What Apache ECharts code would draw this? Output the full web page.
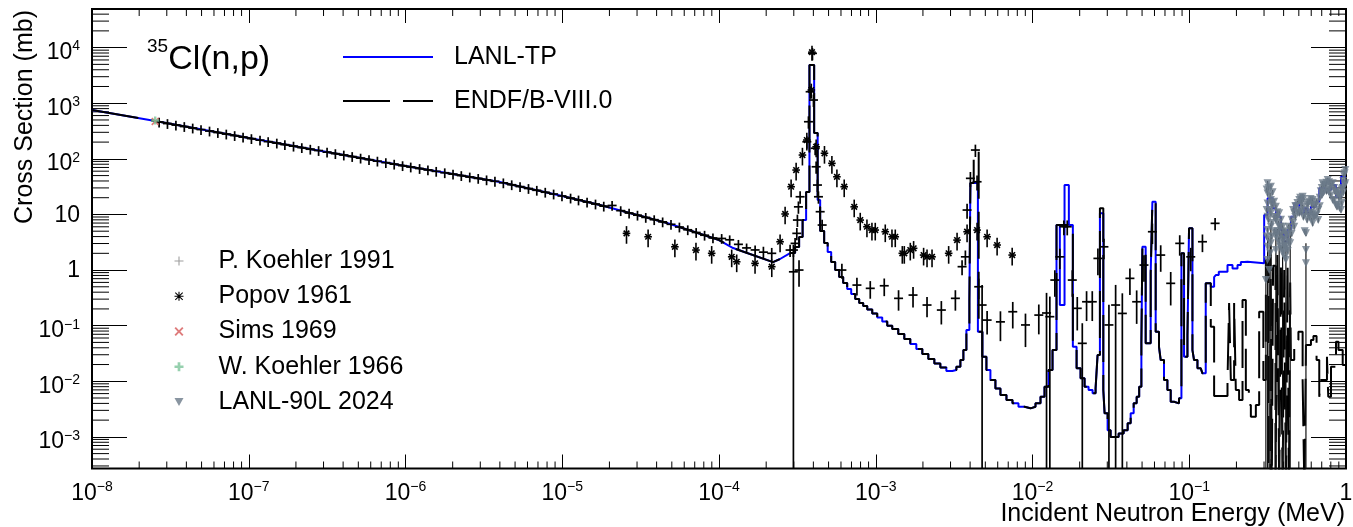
<!DOCTYPE html>
<html><head><meta charset="utf-8">
<script src="https://cdn.jsdelivr.net/npm/echarts@6/dist/echarts.min.js"></script>
<style>html,body{margin:0;padding:0;background:#fff}#c{width:1353px;height:527px}</style>
</head><body><div id="c"></div>
<script>
const FONT = '"Liberation Sans", Arial, Helvetica, sans-serif';

// ---- axis ranges / tick labels ----
const xRange = [1e-8, 1];
const yRange = [2.7e-4, 4.95e4];
const tickMultipliers = [2, 3, 4, 5, 6, 7, 8, 9];
const xDecades = [-8, -7, -6, -5, -4, -3, -2, -1];
const yDecades = [-4, -3, -2, -1, 0, 1, 2, 3, 4];

// ---- evaluated curves: smooth 1/v part shared by both libraries ----
const lowCurve = [
  [1e-8,755],[2.53e-8,479],[1e-7,237],[9.16e-7,77.3],[4.0e-6,38.3],[1.0e-5,21.4],[1.74e-5,14.8],
  [4.66e-5,7.0],[1.0e-4,3.47],[1.23e-4,2.49],[2.21e-4,1.39],[2.45e-4,1.58],[2.842e-4,2.02]
];
// histogram bins (lower edge, value)
const stepA = [
  [2.842e-4,2.02],[3.058e-4,2.59],[3.244e-4,3.92],[3.415e-4,7.93],[3.596e-4,25.3],[3.776e-4,4860],[4.046e-4,291],
  [4.260e-4,18.2],[4.420e-4,5.03],[4.687e-4,3.06],[4.935e-4,2.11],[5.196e-4,1.39],[5.510e-4,1.0],[5.844e-4,0.748],
  [6.198e-4,0.583],[6.573e-4,0.455],[6.972e-4,0.370],[7.396e-4,0.301],[7.843e-4,0.255],[8.317e-4,0.225],[8.825e-4,0.195],
  [9.497e-4,0.165],[1.022e-3,0.140],[1.100e-3,0.119],[1.184e-3,0.100],[1.274e-3,0.0869],[1.392e-3,0.0707],[1.521e-3,0.0574],
  [1.661e-3,0.0467],[1.815e-3,0.0379],[1.982e-3,0.0308],[2.165e-3,0.0251],[2.365e-3,0.0208],[2.583e-3,0.0176],[2.821e-3,0.0153],
  [3.082e-3,0.0159],[3.268e-3,0.0182],[3.467e-3,0.0241],[3.623e-3,0.0364],[3.787e-3,0.0833],[3.957e-3,0.289]
];
const lanlRes4 = [[4.016e-3,36.7],[4.484e-3,0.0777]];
const endfRes4 = [[4.016e-3,36.7],[4.216e-3,134],[4.537e-3,0.0777]];
const stepB = [
  [4.791e-3,0.0276],[5.082e-3,0.0159],[5.389e-3,0.0105],[5.800e-3,0.00745],[6.244e-3,0.00565],[6.822e-3,0.00459],
  [7.452e-3,0.00401],[8.138e-3,0.00348],[8.890e-3,0.00326],[9.710e-3,0.00348],[1.045e-2,0.00401],[1.125e-2,0.00526],
  [1.193e-2,0.00796],[1.265e-2,0.0159],[1.342e-2,0.0364]
];
const lanlRes16 = [[1.423e-2,6.45],[1.494e-2,0.235],[1.601e-2,33.8],[1.706e-2,6.45]];
const endfRes16 = [[1.423e-2,6.45]];
const stepC = [
  [1.809e-2,0.0417],[1.911e-2,0.0171],[2.026e-2,0.0113],[2.149e-2,0.00796],[2.279e-2,0.00695],[2.417e-2,0.00606],
  [2.526e-2,0.00745],[2.601e-2,0.0296]
];
const lanlRes27 = [[2.692e-2,10.5]];
const endfRes27 = [[2.692e-2,12.9]];
const stepD = [
  [2.830e-2,0.00695],[2.884e-2,0.00265],[3.014e-2,0.00132],[3.150e-2,0.00100],[3.544e-2,0.00115],[3.815e-2,0.00132],
  [4.046e-2,0.00175],[4.229e-2,0.00265],[4.420e-2,0.00401],[4.619e-2,0.00526],[4.793e-2,0.00796],[4.950e-2,0.0481],
  [5.024e-2,2.62],[5.272e-2,0.0481],[5.675e-2,0.873],[5.819e-2,16.9],[6.107e-2,0.0777],[6.412e-2,0.0417],[6.575e-2,0.0241],
  [6.902e-2,0.0105],[7.255e-2,0.00695],[7.616e-2,0.00428],[7.995e-2,0.00401],[8.605e-2,0.00493],[8.915e-2,2.0],
  [9.264e-2,0.0276],[9.739e-2,0.0678],[9.970e-2,5.62],[0.1048,0.0364],[0.1073,0.0241],[0.1128,0.0171],[0.1184,0.0159],
  [0.1214,0.0139]
];
const lanlHigh = [
  [0.1274,0.577],[0.1372,0.501],[0.1441,0.748],[0.1477,0.813],[0.1543,0.932],[0.1754,1.23],[0.1888,1.07],[0.2032,1.23],
  [0.2134,1.39],[0.2240,1.41],[0.2354,1.32],[0.3006,9.76],[0.3160,19.5],[0.3401,12.9],[0.3570,9.09],[0.3843,5.24],
  [0.4035,3.23],[0.4241,5.24],[0.4452,9.09],[0.4674,15.8],[0.5030,10.5],[0.5415,12.9],[0.5692,10.5],[0.5976,13.7],
  [0.6430,16.9],[0.6752,29.5],[0.7267,27.5],[0.8020,33.8],[0.8632,20.8],[0.9292,47.6],[1.0,47.6]
];
const endfHigh = [
  [0.1274,0.577],[0.1372,0.0955],[0.1441,0.00542],[0.1754,0.0105],[0.1796,0.255],[0.1842,0.0105],[0.1933,0.255],
  [0.1982,0.00695],[0.2080,0.00459],[0.2187,0.289],[0.2296,0.00695],[0.2400,0.00374],[0.2472,0.0023],[0.2660,0.00374],
  [0.2793,0.178],[0.2970,0.0105],[0.3082,1.51],[0.3198,1e-4],[0.3302,2.81],[0.3360,1e-4],[0.3426,1.2],[0.3549,1e-4],
  [0.3650,1.86],[0.3749,1e-4],[0.3843,1.39],[0.3940,1e-4],[0.4035,1.0],[0.4136,1e-4],[0.4241,1.23],[0.4320,1e-4],
  [0.4405,0.6],[0.4452,0.0241],[0.4674,0.0551],[0.4971,0.0777],[0.5288,0.0105],[0.5430,1e-4],[0.5552,0.0448],
  [0.5976,0.0551],[0.6197,0.065],[0.6489,0.0241],[0.6752,0.00526],[0.6924,0.0105],[0.7560,0.0276],[0.7706,0.00526],
  [0.8020,0.0182],[0.8632,0.0513],[0.8955,0.0364],[0.9526,0.0196],[1.0,0.0196]
];

// ---- experimental data: [E (MeV), sigma (mb), relative error] ----
const pKoehler1991 = [
  [2.68e-8,459,0.2],[3.03e-8,431,0.2],[3.43e-8,405,0.2],[3.88e-8,381,0.2],[4.39e-8,358,0.2],[4.96e-8,336,0.2],[5.62e-8,316,0.2],
  [6.35e-8,297,0.2],[7.19e-8,279,0.2],[8.13e-8,262,0.2],[9.2e-8,246,0.2],[1.04e-7,231,0.2],[1.18e-7,217,0.2],[1.33e-7,204,0.2],
  [1.51e-7,192,0.2],[1.7e-7,180,0.2],[1.93e-7,169,0.2],[2.18e-7,159,0.2],[2.47e-7,149,0.2],[2.79e-7,141,0.2],[3.16e-7,132,0.2],
  [3.57e-7,124,0.2],[4.04e-7,117,0.2],[4.57e-7,110,0.2],[5.17e-7,103,0.2],[5.85e-7,96.7,0.2],[6.62e-7,90.9,0.2],[7.49e-7,85.4,0.2],
  [8.47e-7,80.2,0.2],[9.58e-7,75.4,0.2],[1.08e-6,71.3,0.2],[1.23e-6,67.0,0.2],[1.39e-6,63.2,0.2],[1.57e-6,59.6,0.2],[1.78e-6,56.2,0.2],
  [2.01e-6,53.0,0.2],[2.27e-6,50.0,0.2],[2.57e-6,47.1,0.2],[2.91e-6,44.5,0.2],[3.29e-6,41.9,0.2],[3.72e-6,39.5,0.2],[4.21e-6,37.0,0.2],
  [4.76e-6,34.2,0.2],[5.38e-6,31.7,0.2],[6.09e-6,29.3,0.2],[6.88e-6,27.2,0.2],[7.79e-6,25.1,0.2],[8.81e-6,23.3,0.2],[9.96e-6,21.5,0.2],
  [1.13e-5,19.7,0.2],[1.27e-5,18.2,0.2],[1.44e-5,16.7,0.2],[1.63e-5,15.4,0.2],[1.84e-5,14.1,0.2],[2.08e-5,14.5,0.2],[2.36e-5,11.7,0.2],
  [2.67e-5,10.6,0.2],[3.02e-5,9.7,0.2],[3.41e-5,8.85,0.2],[3.86e-5,8.05,0.2],[4.37e-5,7.35,0.2],[4.94e-5,6.65,0.2],[5.59e-5,5.94,0.2],
  [6.32e-5,5.3,0.2],[7.15e-5,4.74,0.2],[8.09e-5,4.23,0.2],[9.15e-5,3.78,0.2],[1.04e-4,3.7,0.2],[1.17e-4,3.5,0.2],[1.33e-4,2.9,0.2],
  [1.5e-4,2.5,0.2],[1.7e-4,2.3,0.2],[1.92e-4,2.1,0.25],[2.17e-4,2.0,0.25],
  [2.842e-4,2.29,0.25],[2.983e-4,2.29,0.25],[2.983e-4,0.93,1.3],[3.058e-4,3.02,0.25],[3.136e-4,4.57,0.25],[3.164e-4,7.93,0.25],
  [3.211e-4,13.7,0.25],[3.24e-4,1.0,0.5],[3.292e-4,20.8,0.25],[3.634e-4,203,0.25],[3.721e-4,465,0.25],[3.815e-4,1610,0.25],
  [3.947e-4,7890,0.25],[4.006e-4,1142,0.25],[4.106e-4,155,0.25],[4.166e-4,72,0.25],[4.247e-4,33.8,0.25],[4.310e-4,20.8,0.25],
  [4.420e-4,11.2,0.25],[4.550e-4,6.45,0.25],
  [6.081e-4,1.0,0.3],[7.584e-4,0.537,0.35],[9.225e-4,0.469,0.35],[1.133e-3,0.522,0.35],[1.398e-3,0.310,0.4],[1.729e-3,0.355,0.4],
  [2.124e-3,0.235,0.4],[2.621e-3,0.191,0.45],[3.221e-3,0.310,0.4],[3.554e-3,1.15,0.3],[3.731e-3,1.73,0.3],[3.825e-3,12.0,0.3],
  [4.016e-3,44.6,0.3],[4.322e-3,144,0.25],[4.430e-3,38.7,0.3],[4.537e-3,0.501,0.4],[4.770e-3,0.235,1.3],[5.134e-3,0.126,0.45],
  [6.244e-3,0.117,0.55],[7.483e-3,0.178,0.5],[9.02e-3,0.103,0.6],[1.097e-2,0.155,0.55],[1.229e-2,0.169,1.3],[1.290e-2,0.145,1.3],
  [1.388e-2,0.661,0.5],[1.494e-2,1.73,0.4],[1.585e-2,6.01,0.3],[1.666e-2,6.01,0.3],[1.794e-2,0.661,0.5],[1.930e-2,0.205,0.6],
  [2.078e-2,0.0481,1.3],[2.213e-2,0.269,0.55],[2.406e-2,0.269,0.55],[2.614e-2,1.62,0.5],[2.855e-2,2.62,0.4],[3.073e-2,0.103,1.3],
  [3.391e-2,0.235,1.3],[3.742e-2,0.166,1.3],[4.183e-2,0.709,0.5],[4.619e-2,0.269,0.6],[5.142e-2,1.23,0.5],[5.819e-2,4.89,0.4],
  [6.575e-2,1.86,0.5],[7.616e-2,0.577,0.6],[8.695e-2,3.02,0.4],[0.1022,1.73,0.45],[0.1214,3.23,0.35],[0.1462,6.92,0.25]
];
const popov1961 = [
  [2.57e-5,4.57,0.35],[3.53e-5,3.97,0.35],[5.23e-5,2.62,0.35],[7.13e-5,2.29,0.35],[8.98e-5,2.0,0.35],[1.205e-4,1.73,0.35],
  [1.297e-4,1.41,0.35],[1.698e-4,1.32,0.35],[2.171e-4,1.15,0.35],[2.453e-4,3.23,0.35],[2.641e-4,10.2,0.35],[2.884e-4,31.5,0.35],
  [3.105e-4,62.9,0.35],[3.406e-4,117,0.35],[3.634e-4,218,0.35],[3.88e-4,1730,0.3],[3.92e-4,8300,0.3],[4.166e-4,165,0.35],
  [4.708e-4,126,0.35],[5.251e-4,83,0.35],[5.652e-4,47.6,0.35],[6.292e-4,31.5,0.35],[7.288e-4,13.7,0.35],[7.962e-4,7.93,0.35],
  [8.786e-4,6.01,0.35],[9.456e-4,5.24,0.35],[9.927e-4,5.24,0.35],[1.150e-3,4.89,0.35],[1.269e-3,3.97,0.35],[1.332e-3,3.97,0.35],
  [1.477e-3,2.0,0.35],[1.521e-3,2.0,0.35],[1.661e-3,2.29,0.35],[1.744e-3,2.46,0.35],[2.020e-3,1.86,0.35],[2.124e-3,1.73,0.35],
  [2.286e-3,1.73,0.35],[2.918e-3,2.0,0.35],[3.302e-3,3.46,0.35],[3.825e-3,4.89,0.35],[4.430e-3,5.24,0.35],[5.134e-3,3.97,0.35],
  [5.946e-3,2.82,0.35],[7.419e-3,1.86,0.35]
];
const sims1969 = [[2.53e-8,470]];
const wKoehler1966 = [[2.53e-8,490]];
const lanl90L2024 = [
  [0.3082,0.661,1.3],[0.3120,28,0.1],[0.3120,12,0.1],[0.3120,4,0.1],[0.3160,36.3,0.1],[0.3160,23.9,0.1],[0.3160,15.8,0.1],
  [0.3160,9.09,0.1],[0.3160,5.24,0.1],[0.3160,2.62,0.1],[0.3160,1.51,1.3],[0.3200,30,0.1],[0.3200,8,0.1],[0.3200,3.5,0.1],
  [0.3235,1.0,1.3],[0.3280,22,0.1],[0.3280,12,0.1],[0.3280,2,0.1],[0.3317,31.5,0.1],[0.3317,18.2,0.1],[0.3317,10.5,0.1],
  [0.3317,6.01,0.1],[0.3317,3.02,1.3],[0.3360,16,0.1],[0.3360,7,0.1],[0.3360,4,0.1],[0.3400,25,0.1],[0.3400,14,0.1],
  [0.3480,17,0.1],[0.3480,9,0.1],[0.3480,5,0.1],[0.3570,13.7,0.1],[0.3570,7.93,0.1],[0.3570,3.97,0.1],[0.3570,2.29,1.3],
  [0.3620,9,0.1],[0.3620,4.5,0.1],[0.3650,11,0.1],[0.3650,5,0.1],[0.3700,7,0.1],[0.3700,3.5,0.1],[0.3749,10.5,0.1],
  [0.3749,6.01,0.1],[0.3749,3.02,1.3],[0.3800,6,0.1],[0.3800,2.6,0.1],[0.3850,8,0.1],[0.3850,4.2,0.1],[0.3900,4.8,0.1],
  [0.3900,2.4,0.1],[0.3940,6.01,0.1],[0.3940,3.46,0.1],[0.3940,2.0,1.3],[0.4000,3.6,0.1],[0.4000,2.1,0.1],[0.4040,5,0.1],
  [0.4040,2.7,0.1],[0.4080,3.0,0.1],[0.4080,1.7,0.1],[0.4136,4.57,0.1],[0.4136,2.62,0.1],[0.4136,1.51,1.3],[0.4200,4.3,0.1],
  [0.4200,2.4,0.1],[0.4250,3.9,0.1],[0.4250,2.2,0.1],[0.4300,6,0.1],[0.4300,3.2,0.1],[0.4405,5.24,0.1],[0.4405,3.02,1.3],
  [0.4500,8,0.1],[0.4500,4.5,0.1],[0.4600,12,0.1],[0.4600,7,0.1],[0.4674,10.5,0.1],[0.4674,6.01,0.1],[0.4750,14,0.1],
  [0.4750,9,0.1],[0.4800,14,0.1],[0.4900,16,0.1],[0.4900,11,0.1],[0.5030,18.2,0.1],[0.5030,10.5,0.1],[0.5100,20,0.1],
  [0.5100,12,0.1],[0.5170,16,0.1],[0.5200,17,0.1],[0.5200,11,0.1],[0.5288,20.8,0.1],[0.5288,13.7,0.1],[0.5350,19,0.1],
  [0.5350,9,0.1],[0.5450,10,0.1],[0.5450,5,0.1],[0.5552,12.0,0.1],[0.5552,4.57,0.1],[0.5552,2.29,0.1],[0.5552,1.32,1.3],
  [0.5650,15,0.1],[0.5650,8,0.1],[0.5750,16,0.1],[0.5750,10,0.1],[0.5850,17,0.1],[0.5850,9,0.1],[0.5950,19,0.1],
  [0.5950,11,0.1],[0.6050,15,0.1],[0.6050,8,0.1],[0.6126,18.2,0.1],[0.6126,10.5,0.1],[0.6126,6.92,0.1],[0.6250,14,0.1],
  [0.6250,9,0.1],[0.6400,15,0.1],[0.6400,9.5,0.1],[0.6500,17,0.1],[0.6500,10,0.1],[0.6653,12.0,0.1],[0.6653,7.93,0.1],
  [0.6800,20,0.1],[0.6800,14,0.1],[0.6900,26,0.1],[0.7000,30,0.1],[0.7000,22,0.1],[0.7097,36.3,0.1],[0.7097,23.9,0.1],
  [0.7200,33,0.1],[0.7200,25,0.1],[0.7400,34,0.1],[0.7500,37,0.1],[0.7500,26,0.1],[0.7641,41.6,0.1],[0.7641,27.5,0.1],
  [0.7800,38,0.1],[0.7800,25,0.1],[0.7900,30,0.1],[0.8000,34,0.1],[0.8000,22,0.1],[0.8222,36.3,0.1],[0.8222,18.2,0.1],
  [0.8400,30,0.1],[0.8400,18,0.1],[0.8500,26,0.1],[0.8600,25,0.1],[0.8600,15,0.1],[0.8762,23.9,0.1],[0.8762,13.7,0.1],
  [0.8900,24,0.1],[0.8900,15,0.1],[0.9000,20,0.1],[0.9100,22,0.1],[0.9100,13,0.1],[0.9292,20.8,0.1],[0.9292,12.0,0.1],
  [0.9400,28,0.1],[0.9400,16,0.1],[0.9500,30,0.1],[0.9600,40,0.1],[0.9600,25,0.1],[0.9700,50,0.1],[0.9800,55,0.1],
  [0.9800,33,0.1],[0.9904,62.9,0.1],[0.9904,36.3,0.1]
];

// ---- derived tables ----
const lanlStep = [].concat(stepA, lanlRes4, stepB, lanlRes16, stepC, lanlRes27, stepD, lanlHigh);
const endfStep = [].concat(stepA, endfRes4, stepB, endfRes16, stepC, endfRes27, stepD, endfHigh);
const xMinorTicks = [];
xDecades.forEach(n => tickMultipliers.forEach(m => xMinorTicks.push([m * Math.pow(10, n), 1])));
const yMinorTicks = [];
yDecades.forEach(n => tickMultipliers.forEach(m => {
  const v = m * Math.pow(10, n);
  if (v > yRange[0] && v < yRange[1]) yMinorTicks.push([1e-4, v]);
}));

function supText(n) { return n < 0 ? '\u2212' + (-n) : String(n); }
function expOf(v) { const l = Math.log10(v), n = Math.round(l); return Math.abs(l - n) < 1e-6 ? n : null; }

function errBarItem(color, lw, withH, withStar) {
  return function (params, api) {
    const E = api.value(0), s = api.value(1), e = api.value(2);
    const cs = params.coordSys, bottom = cs.y + cs.height;
    const p = api.coord([E, s]);
    const yHi = api.coord([E, s * (1 + e)])[1];
    const lo = s * (1 - e);
    const yLo = lo > 0 ? Math.min(api.coord([E, lo])[1], bottom) : bottom;
    const st = {stroke: color, lineWidth: lw};
    const ch = [{type: 'line', shape: {x1: p[0], y1: Math.max(yHi, cs.y), x2: p[0], y2: yLo}, style: st}];
    if (withH) ch.push({type: 'line', shape: {x1: p[0] - 4.5, y1: p[1], x2: p[0] + 4.5, y2: p[1]}, style: st});
    if (withStar) {
      const r = 3.8, d = 2.8, ss = {stroke: color, lineWidth: 1.6};
      ch.push({type: 'line', shape: {x1: p[0] - r, y1: p[1], x2: p[0] + r, y2: p[1]}, style: ss});
      ch.push({type: 'line', shape: {x1: p[0] - d, y1: p[1] - d, x2: p[0] + d, y2: p[1] + d}, style: ss});
      ch.push({type: 'line', shape: {x1: p[0] - d, y1: p[1] + d, x2: p[0] + d, y2: p[1] - d}, style: ss});
    }
    return {type: 'group', children: ch};
  };
}
function xMinorItem(params, api) {
  const cs = params.coordSys, x = api.coord([api.value(0), 1])[0];
  const b = cs.y + cs.height, t = cs.y, st = {stroke: '#000', lineWidth: 1};
  return {type: 'group', children: [
    {type: 'line', shape: {x1: x, y1: b, x2: x, y2: b - 7}, style: st},
    {type: 'line', shape: {x1: x, y1: t, x2: x, y2: t + 7}, style: st}]};
}
function yMinorItem(params, api) {
  const cs = params.coordSys, y = api.coord([1e-4, api.value(1)])[1];
  const l = cs.x, r = cs.x + cs.width, st = {stroke: '#000', lineWidth: 1};
  return {type: 'group', children: [
    {type: 'line', shape: {x1: l, y1: y, x2: l + 17, y2: y}, style: st},
    {type: 'line', shape: {x1: r, y1: y, x2: r - 17, y2: y}, style: st}]};
}

const ICON_SOLID = 'path://M0,0H90V2H0Z';
const ICON_DASH = 'path://M0,0H47V2H0Z M60,0H90V2H60Z';
const ICON_THIN_PLUS = 'path://M4.4,0H5.6V4.4H10V5.6H5.6V10H4.4V5.6H0V4.4H4.4Z';
const ICON_STAR = 'path://M4.4,0H5.6V4.4H10V5.6H5.6V10H4.4V5.6H0V4.4H4.4Z M1.3,0.5L5,4.2L8.7,0.5L9.5,1.3L5.8,5L9.5,8.7L8.7,9.5L5,5.8L1.3,9.5L0.5,8.7L4.2,5L0.5,1.3Z';
const ICON_X = 'path://M1.5,0L5,3.5L8.5,0L10,1.5L6.5,5L10,8.5L8.5,10L5,6.5L1.5,10L0,8.5L3.5,5L0,1.5Z';
const ICON_PLUS = 'path://M3.5,0H6.5V3.5H10V6.5H6.5V10H3.5V6.5H0V3.5H3.5Z';
const ICON_TRI = 'path://M0,0L10,0L5,8.7Z';

const chart = echarts.init(document.getElementById('c'));
const axisTickStyle = {color: '#000', width: 1};
chart.setOption({
  animation: false,
  backgroundColor: '#fff',
  textStyle: {fontFamily: FONT},
  grid: {left: 92, right: 7, top: 9, bottom: 58.5, show: true, borderColor: '#000', borderWidth: 2,
         containLabel: false, outerBoundsMode: 'none'},
  xAxis: [
    {type: 'log', logBase: 10, min: xRange[0], max: xRange[1], position: 'bottom',
     axisLine: {show: false}, splitLine: {show: false},
     axisTick: {inside: true, length: 14, lineStyle: axisTickStyle},
     axisLabel: {interval: 0, showMinLabel: true, showMaxLabel: true, margin: 12, color: '#000',
       formatter: v => { const n = expOf(v); if (n === null) return ''; return n === 0 ? '{x1|1}' : '{xb|10}{xs|' + supText(n) + '}'; },
       rich: {xb: {fontSize: 23, fontFamily: FONT, color: '#000'},
              xs: {fontSize: 14, fontFamily: FONT, color: '#000', padding: [0, 0, 12, 0]},
              x1: {fontSize: 23, fontFamily: FONT, color: '#000', lineHeight: 26}}}},
    {type: 'log', logBase: 10, min: xRange[0], max: xRange[1], position: 'top',
     axisLine: {show: false}, splitLine: {show: false}, axisLabel: {show: false},
     axisTick: {inside: true, length: 14, lineStyle: axisTickStyle}}
  ],
  yAxis: [
    {type: 'log', logBase: 10, min: yRange[0], max: yRange[1], position: 'left',
     axisLine: {show: false}, splitLine: {show: false},
     axisTick: {inside: true, length: 35, lineStyle: axisTickStyle},
     axisLabel: {interval: 0, showMinLabel: false, showMaxLabel: false, margin: 12, color: '#000',
       formatter: v => { const n = expOf(v); if (n === null) return ''; if (n === 0) return '{p|1}'; if (n === 1) return '{p|10}'; return '{b|10}{s|' + supText(n) + '}'; },
       rich: {b: {fontSize: 23, fontFamily: FONT, color: '#000', padding: [10, 0, 0, 0]},
              s: {fontSize: 14, fontFamily: FONT, color: '#000', padding: [0, 0, 2, 0]},
              p: {fontSize: 23, fontFamily: FONT, color: '#000', padding: [2, 0, 0, 0]}}}},
    {type: 'log', logBase: 10, min: yRange[0], max: yRange[1], position: 'right',
     axisLine: {show: false}, splitLine: {show: false}, axisLabel: {show: false},
     axisTick: {inside: true, length: 35, lineStyle: axisTickStyle}}
  ],
  legend: [
    {orient: 'vertical', left: 338, top: 39.5, itemWidth: 90, itemHeight: 14, itemGap: 19, selectedMode: false,
     data: [
       {name: 'LANL-TP', icon: ICON_SOLID, itemStyle: {color: '#0000ff', borderWidth: 0}},
       {name: 'ENDF/B-VIII.0', icon: ICON_DASH, itemStyle: {color: '#000', borderWidth: 0}}],
     textStyle: {fontSize: 25, fontFamily: FONT, color: '#000', lineHeight: 25, padding: [0, 0, 0, 16]}},
    {orient: 'vertical', left: 169.5, top: 243.5, itemWidth: 9, itemHeight: 9, itemGap: 10.25, selectedMode: false,
     data: [
       {name: 'P. Koehler 1991', icon: ICON_THIN_PLUS, itemStyle: {color: '#9e9e9e'}},
       {name: 'Popov 1961', icon: ICON_STAR, itemStyle: {color: '#000'}},
       {name: 'Sims 1969', icon: ICON_X, itemStyle: {color: '#d65a5a'}},
       {name: 'W. Koehler 1966', icon: ICON_PLUS, itemStyle: {color: '#7cc49a'}},
       {name: 'LANL-90L 2024', icon: ICON_TRI, itemStyle: {color: '#6b7b8a'}}],
     textStyle: {fontSize: 25, fontFamily: FONT, color: '#000', lineHeight: 25, padding: [0, 0, 0, 30]}}
  ],
  graphic: [
    {type: 'text', x: 147, y: 60, silent: true,
     style: {text: '{s|35}{b|Cl(n,p)}', align: 'left', verticalAlign: 'middle', fill: '#000',
       rich: {s: {fontSize: 19, fontFamily: FONT, fill: '#000', padding: [0, 0, 26, 0]},
              b: {fontSize: 34, fontFamily: FONT, fill: '#000'}}}},
    {type: 'text', x: 25, y: 10, rotation: Math.PI / 2, silent: true,
     style: {text: 'Cross Section (mb)', align: 'right', verticalAlign: 'middle', fill: '#000',
       font: '25px ' + FONT}},
    {type: 'text', x: 1345, y: 514, silent: true,
     style: {text: 'Incident Neutron Energy (MeV)', align: 'right', verticalAlign: 'middle', fill: '#000',
       font: '25px ' + FONT}}
  ],
  series: [
    {type: 'custom', name: '_xminor', silent: true, data: xMinorTicks, renderItem: xMinorItem, z: 1},
    {type: 'custom', name: '_yminor', silent: true, data: yMinorTicks, renderItem: yMinorItem, z: 1},
    {type: 'line', name: 'LANL-TP', data: lowCurve, symbol: 'none', lineStyle: {color: '#0000ff', width: 2}, itemStyle: {color: '#0000ff'}, z: 2},
    {type: 'line', name: 'LANL-TP', data: lanlStep, step: 'end', symbol: 'none', lineStyle: {color: '#0000ff', width: 2}, itemStyle: {color: '#0000ff'}, z: 2},
    {type: 'line', name: 'ENDF/B-VIII.0', data: lowCurve, symbol: 'none', lineStyle: {color: '#000', width: 2, type: [47, 13]}, itemStyle: {color: '#000'}, z: 3},
    {type: 'line', name: 'ENDF/B-VIII.0', data: endfStep, step: 'end', symbol: 'none', lineStyle: {color: '#000', width: 2, type: [47, 13]}, itemStyle: {color: '#000'}, z: 3},
    {type: 'custom', name: 'P. Koehler 1991', data: pKoehler1991, renderItem: errBarItem('#000', 1.7, true, false), z: 4},
    {type: 'custom', name: 'Popov 1961', data: popov1961, renderItem: errBarItem('#000', 1.6, false, true), z: 4},
    {type: 'scatter', name: 'Sims 1969', data: sims1969, symbol: ICON_X, symbolSize: 8, itemStyle: {color: '#d65a5a'}, z: 5},
    {type: 'scatter', name: 'W. Koehler 1966', data: wKoehler1966, symbol: ICON_PLUS, symbolSize: 8, itemStyle: {color: '#7cc49a'}, z: 5},
    {type: 'custom', name: '_lanlErr', silent: true, data: lanl90L2024, renderItem: errBarItem('#111', 1.2, false, false), z: 4},
    {type: 'scatter', name: 'LANL-90L 2024', data: lanl90L2024.map(d => [d[0], d[1]]), symbol: ICON_TRI, symbolSize: 8, itemStyle: {color: '#6b7b8a'}, z: 5}
  ]
});
</script></body></html>
